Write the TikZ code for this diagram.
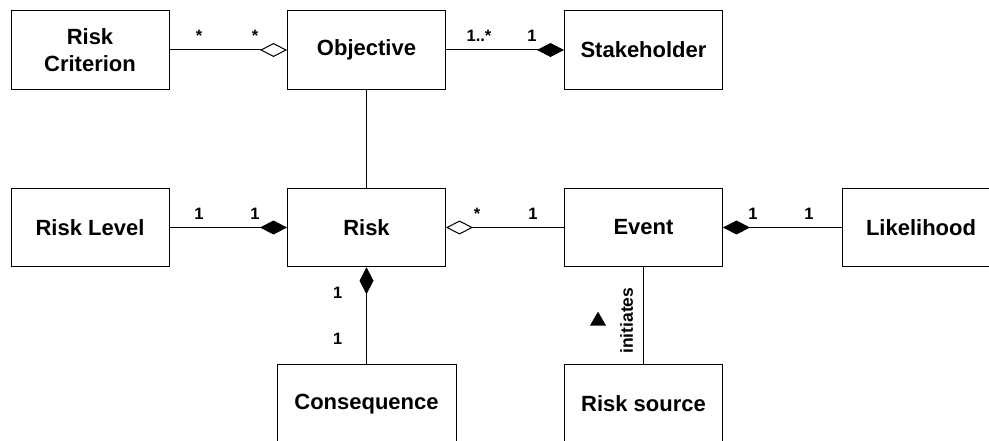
\documentclass[tikz,border=0pt]{standalone}
\usepackage{fontspec}
\setmainfont{Liberation Sans}
\usetikzlibrary{arrows.meta,shapes.geometric}
\begin{document}
\begin{tikzpicture}[x=1pt,y=-1pt,
  cls/.style={draw,line width=1pt,minimum width=158pt,minimum height=78.5pt,
    inner sep=0pt,align=center,font=\fontsize{22}{26.5}\selectfont\bfseries},
  mult/.style={font=\fontsize{16.5}{18}\selectfont\bfseries,anchor=base,inner sep=0pt},
  assoc/.style={line width=1pt},
  aggend/.style={assoc,-{Diamond[open,length=27pt,width=14pt,line width=1pt]}},
  aggstart/.style={assoc,{Diamond[open,length=27pt,width=14pt,line width=1pt]}-},
  compend/.style={assoc,-{Diamond[length=27pt,width=14pt]}},
  compstart/.style={assoc,{Diamond[length=27pt,width=14pt]}-},
]
\useasboundingbox (0,0) rectangle (989,441);
\clip (0,0) rectangle (989,441);

% classes
\node[cls] (crit)   at (90,50)      {Risk\\Criterion};
\node[cls] (obj)    at (366.5,50)   {Objective};
\node[cls] (stake)  at (643.5,50)   {Stakeholder};
\node[cls] (level)  at (90,227.5)   {Risk Level};
\node[cls] (risk)   at (366.5,227.5){Risk};
\node[cls] (event)  at (643.5,227.5){Event};
\node[cls] (like)   at (921,227.5)  {Likelihood};
\node[cls,minimum width=179pt] (cons) at (366.5,404) {Consequence};
\node[cls] (source) at (643.5,404)  {Risk source};

% associations
\draw[aggend]    (crit.east)  -- (obj.west);
\draw[compend]   (obj.east)   -- (stake.west);
\draw[assoc]     (obj.south)  -- (risk.north);
\draw[compend]   (level.east) -- (risk.west);
\draw[aggstart]  (risk.east)  -- (event.west);
\draw[compstart] (event.east) -- (like.west);
\draw[compstart] (risk.south) -- (cons.north);
\draw[assoc]     (event.south)-- (source.north);

% multiplicities
\node[mult] (m1)  at (199,41.7) {*};
\node[mult] (m2)  at (255,41.7) {*};
\node[mult] (m3)  at (479,41.7) {1..*};
\node[mult] (m4)  at (532,41.7) {1};
\node[mult] (m5)  at (199,219)  {1};
\node[mult] (m6)  at (255,219)  {1};
\node[mult] (m7)  at (477,219)  {*};
\node[mult] (m8)  at (533,219)  {1};
\node[mult] (m9)  at (753,219)  {1};
\node[mult] (m10) at (809,219)  {1};
\node[mult] (m11) at (337.8,298.3) {1};
\node[mult] (m12) at (337.8,344)   {1};

% role name with reading direction
\node[rotate=90,inner sep=0pt,font=\fontsize{17.5}{18}\selectfont\bfseries] (rolename) at (626.5,320.7) {initiates};
\node[regular polygon,regular polygon sides=3,fill=black,inner sep=0pt,
  minimum size=18.5pt] (dir) at (598,320.9) {};
\end{tikzpicture}
\end{document}
